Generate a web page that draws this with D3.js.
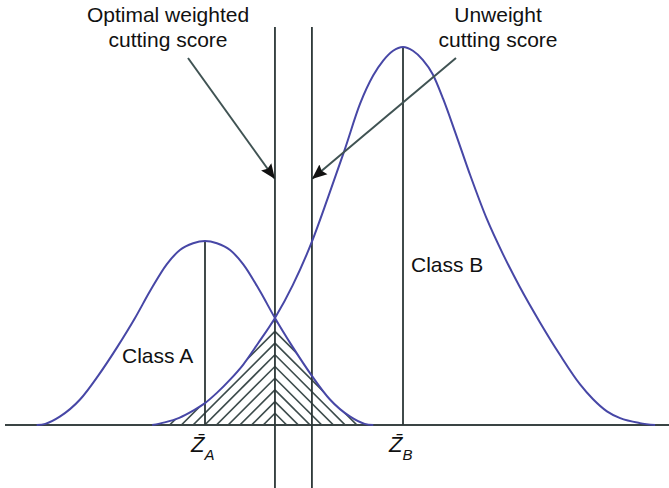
<!DOCTYPE html>
<html>
<head>
<meta charset="utf-8">
<script src="https://cdn.jsdelivr.net/npm/d3@7"></script>
<style>
  html, body { margin: 0; padding: 0; background: #fff; }
  svg { display: block; }
  text { font-family: "Liberation Sans", Arial, Helvetica, sans-serif; fill: #111; }
</style>
</head>
<body>
<svg id="chart" width="669" height="488"></svg>
<script>
// Discriminant score (in units of the Class A spread) and relative density
const classAScore = [-2.55, -2.42, -2.20, -1.89, -1.62, -1.33, -1.06, -0.83, -0.58, -0.38, -0.18,
  0, 0.18, 0.38, 0.58, 0.83, 1.06, 1.33, 1.62, 1.89, 2.20, 2.42, 2.55];
const classADensity = [0, 0.003, 0.022, 0.068, 0.130, 0.206, 0.283, 0.355, 0.425, 0.463, 0.481,
  0.487, 0.481, 0.463, 0.425, 0.355, 0.283, 0.206, 0.130, 0.068, 0.022, 0.003, 0];

const classBScore = [-0.80, -0.61, -0.39, -0.18, 0, 0.18, 0.38, 0.58, 0.80, 1.06, 1.33, 1.62, 1.86,
  2.12, 2.35, 2.55, 2.70, 2.85, 3.00, 3.15, 3.30, 3.45, 3.61, 3.79, 4.02, 4.27, 4.52, 4.77, 5.08,
  5.38, 5.68, 5.88, 6.09, 6.29, 6.59, 6.82];
const classBDensity = [0, 0.007, 0.019, 0.038, 0.058, 0.085, 0.120, 0.160, 0.215, 0.283, 0.370,
  0.485, 0.600, 0.730, 0.850, 0.925, 0.964, 0.990, 1.000, 0.990, 0.966, 0.928, 0.862, 0.775, 0.660,
  0.545, 0.450, 0.365, 0.270, 0.185, 0.108, 0.068, 0.036, 0.018, 0.005, 0];

// Group centroids and the two cutting scores
const centroids = [
  { name: "A", score: 0, density: 0.487 },
  { name: "B", score: 3, density: 1.000 }
];
const cuttingScores = [
  { name: "Optimal weighted", score: 1.06 },
  { name: "Unweight", score: 1.62 }
];
const classLabels = ["Class A", "Class B"];

const W = 669, H = 488;
const svg = d3.select("#chart");

const x = d3.scaleLinear().domain([-3.03, 7.03]).range([5, 669]);
const y = d3.scaleLinear().domain([0, 1]).range([425, 47]);

const curveColor = "#4747a6";
const inkColor = "#2c3737";
const hatchColor = "#3c4b4b";
const arrowColor = "#405353";

const seriesA = classAScore.map((s, i) => ({ s, d: classADensity[i] }));
const seriesB = classBScore.map((s, i) => ({ s, d: classBDensity[i] }));

const line = d3.line().x(p => x(p.s)).y(p => y(p.d)).curve(d3.curveMonotoneX);
const area = d3.area().x(p => x(p.s)).y0(y(0)).y1(p => y(p.d)).curve(d3.curveMonotoneX);

const defs = svg.append("defs");
defs.append("clipPath").attr("id", "underA").append("path").attr("d", area(seriesA));
defs.append("clipPath").attr("id", "underB").append("path").attr("d", area(seriesB));
defs.append("marker")
  .attr("id", "head")
  .attr("viewBox", "0 0 10 10")
  .attr("refX", 10).attr("refY", 5)
  .attr("markerWidth", 7.5).attr("markerHeight", 7.5)
  .attr("markerUnits", "strokeWidth")
  .attr("orient", "auto")
  .append("path").attr("d", "M0,0.8 L10,5 L0,9.2 L1.5,5 Z").attr("fill", "#111");

// Overlap of the two groups: chevron hatching meeting on the optimal cutting score
const cutX = x(cuttingScores[0].score);
const step = 11.7;
const hatch = svg.append("g").attr("clip-path", "url(#underA)")
  .append("g").attr("clip-path", "url(#underB)");
d3.range(0, 14).forEach(k => {
  const ay = y(0) - k * step;
  hatch.append("line").attr("x1", cutX).attr("y1", ay).attr("x2", cutX - 260).attr("y2", ay + 260)
    .attr("stroke", hatchColor).attr("stroke-width", 1.6);
  hatch.append("line").attr("x1", cutX).attr("y1", ay).attr("x2", cutX + 260).attr("y2", ay + 260)
    .attr("stroke", hatchColor).attr("stroke-width", 1.6);
});

// Baseline of the score axis
svg.append("line")
  .attr("x1", x.range()[0]).attr("x2", x.range()[1])
  .attr("y1", y(0)).attr("y2", y(0))
  .attr("stroke", "#3a4444").attr("stroke-width", 2);

// Centroid lines
svg.selectAll(".centroid").data(centroids).join("line")
  .attr("class", "centroid")
  .attr("x1", d => x(d.score)).attr("x2", d => x(d.score))
  .attr("y1", d => y(d.density)).attr("y2", y(0))
  .attr("stroke", inkColor).attr("stroke-width", 1.8);

// Cutting score lines
svg.selectAll(".cut").data(cuttingScores).join("line")
  .attr("class", "cut")
  .attr("x1", d => x(d.score)).attr("x2", d => x(d.score))
  .attr("y1", 27).attr("y2", H)
  .attr("stroke", inkColor).attr("stroke-width", 1.8);

// Density curves
[seriesA, seriesB].forEach(s => {
  svg.append("path").attr("d", line(s))
    .attr("fill", "none").attr("stroke", curveColor).attr("stroke-width", 2);
});

// Callout arrows
const tipY = 179;
[
  { from: [188, 58], to: [x(cuttingScores[0].score), tipY] },
  { from: [456, 58], to: [x(cuttingScores[1].score), tipY] }
].forEach(a => {
  svg.append("line")
    .attr("x1", a.from[0]).attr("y1", a.from[1])
    .attr("x2", a.to[0]).attr("y2", a.to[1])
    .attr("stroke", arrowColor).attr("stroke-width", 2)
    .attr("marker-end", "url(#head)");
});

// Callout texts
const fs = 21;
function twoLine(cx, lines) {
  const t = svg.append("text").attr("text-anchor", "middle").attr("font-size", fs);
  lines.forEach((l, i) => t.append("tspan").attr("x", cx).attr("y", 22 + i * 25).text(l));
}
twoLine(168, [cuttingScores[0].name, "cutting score"]);
twoLine(498, [cuttingScores[1].name, "cutting score"]);

svg.append("text").attr("x", 122).attr("y", 363).attr("font-size", fs).text(classLabels[0]);
svg.append("text").attr("x", 411).attr("y", 272).attr("font-size", fs).text(classLabels[1]);

// Centroid labels Z̄_A, Z̄_B
centroids.forEach(c => {
  const t = svg.append("text")
    .attr("x", x(c.score) - 14).attr("y", 452)
    .attr("font-size", 22).attr("font-style", "italic");
  t.append("tspan").text("Z\u0304");
  t.append("tspan").attr("font-size", 15).attr("dx", 0).attr("dy", 8).text(c.name);
});
</script>
</body>
</html>
